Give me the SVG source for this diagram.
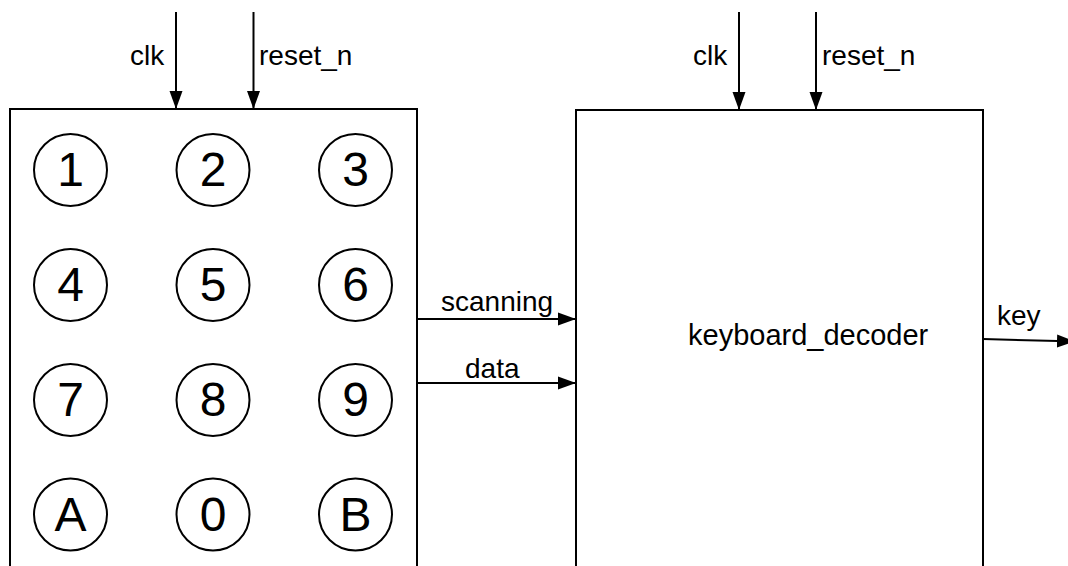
<svg xmlns="http://www.w3.org/2000/svg" width="1068" height="566" viewBox="0 0 1068 566">
<style>
.box{fill:#fff;stroke:#000;stroke-width:2}
.key{fill:#fff;stroke:#000;stroke-width:2}
.dig{font-family:"Liberation Sans",Arial,sans-serif;font-size:48px;text-anchor:middle;fill:#000}
.lbl{font-family:"Liberation Sans",Arial,sans-serif;font-size:28px;fill:#000}
.wire{stroke:#000;stroke-width:2;fill:none;marker-end:url(#ah)}
</style>
<defs>
<marker id="ah" markerWidth="18" markerHeight="14" refX="18" refY="7" orient="auto" markerUnits="userSpaceOnUse">
<path d="M0,0.5 L18,7 L0,13.5 Z" fill="#000"/>
</marker>
</defs>
<rect width="1068" height="566" fill="#fff"/>
<g id="keypad">
<path class="box" d="M10,580 V109 H417 V580"/>
<g id="k1"><ellipse class="key" cx="70.5" cy="170" rx="36.5" ry="36"/><text class="dig" x="70.5" y="186">1</text></g>
<g id="k2"><ellipse class="key" cx="213" cy="170" rx="36.5" ry="36"/><text class="dig" x="213" y="186">2</text></g>
<g id="k3"><ellipse class="key" cx="355.5" cy="170" rx="36.5" ry="36"/><text class="dig" x="355.5" y="186">3</text></g>
<g id="k4"><ellipse class="key" cx="70.5" cy="285" rx="36.5" ry="36"/><text class="dig" x="70.5" y="301">4</text></g>
<g id="k5"><ellipse class="key" cx="213" cy="285" rx="36.5" ry="36"/><text class="dig" x="213" y="301">5</text></g>
<g id="k6"><ellipse class="key" cx="355.5" cy="285" rx="36.5" ry="36"/><text class="dig" x="355.5" y="301">6</text></g>
<g id="k7"><ellipse class="key" cx="70.5" cy="400" rx="36.5" ry="36"/><text class="dig" x="70.5" y="416">7</text></g>
<g id="k8"><ellipse class="key" cx="213" cy="400" rx="36.5" ry="36"/><text class="dig" x="213" y="416">8</text></g>
<g id="k9"><ellipse class="key" cx="355.5" cy="400" rx="36.5" ry="36"/><text class="dig" x="355.5" y="416">9</text></g>
<g id="kA"><ellipse class="key" cx="70.5" cy="514.5" rx="36.5" ry="36"/><text class="dig" x="70.5" y="530.5">A</text></g>
<g id="k0"><ellipse class="key" cx="213" cy="514.5" rx="36.5" ry="36"/><text class="dig" x="213" y="530.5">0</text></g>
<g id="kB"><ellipse class="key" cx="355.5" cy="514.5" rx="36.5" ry="36"/><text class="dig" x="355.5" y="530.5">B</text></g>
</g>
<g id="keyboard_decoder">
<path class="box" d="M576,580 V110 H983 V580"/>
<text class="lbl" x="688" y="345" style="font-size:29px">keyboard_decoder</text>
</g>
<g id="connectors">
<line class="wire" x1="176" y1="12" x2="176" y2="109"/>
<line class="wire" x1="253.5" y1="12" x2="253.5" y2="109"/>
<line class="wire" x1="739" y1="12" x2="739" y2="110"/>
<line class="wire" x1="816" y1="12" x2="816" y2="110"/>
<line class="wire" x1="417" y1="319" x2="576" y2="319"/>
<line class="wire" x1="417" y1="383" x2="576" y2="383"/>
<line class="wire" x1="983" y1="339" x2="1075" y2="341.5"/>
</g>
<g id="labels">
<text class="lbl" x="130" y="65">clk</text>
<text class="lbl" x="259" y="65">reset_n</text>
<text class="lbl" x="693" y="65">clk</text>
<text class="lbl" x="822" y="65">reset_n</text>
<text class="lbl" x="441" y="311">scanning</text>
<text class="lbl" x="465" y="378">data</text>
<text class="lbl" x="997" y="325">key</text>
</g>
</svg>
